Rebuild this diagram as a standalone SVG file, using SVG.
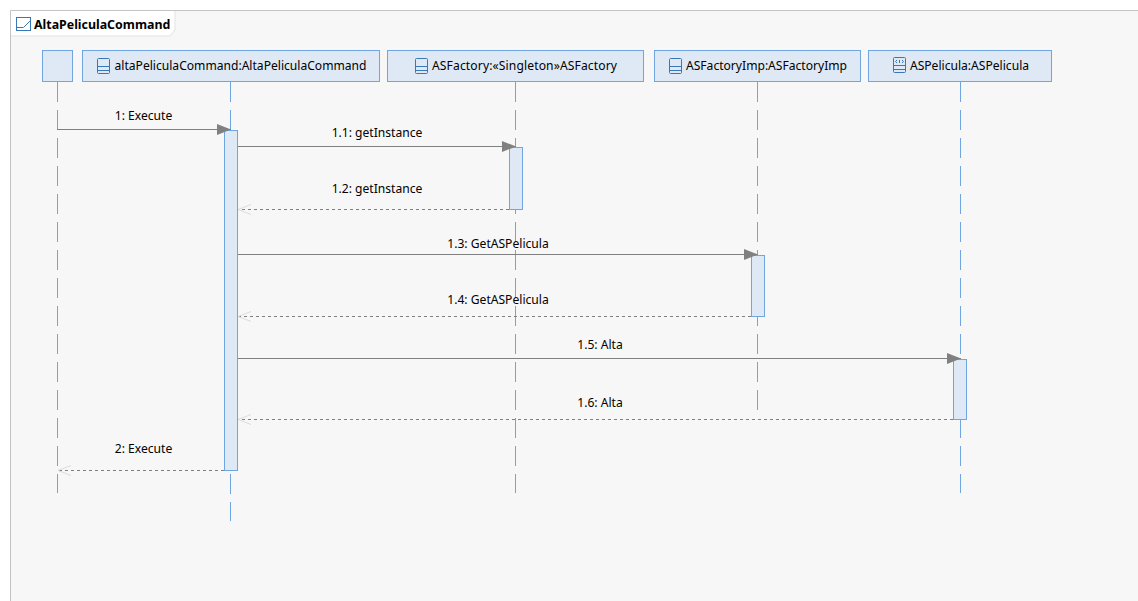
<svg xmlns="http://www.w3.org/2000/svg" width="1138" height="601" viewBox="0 0 1138 601">
<style>
text{font-family:"Noto Sans","Open Sans","Liberation Sans",sans-serif;font-size:12.1px;fill:#000;text-anchor:middle}
.h{fill:#dfe9f5;stroke:#6fa5e0;stroke-width:1}
.ll{stroke:#6fa5e0;stroke-width:1;stroke-dasharray:20 8;fill:none}
.msg{stroke:#808080;stroke-width:1;fill:none}
.ret{stroke:#808080;stroke-width:1;stroke-dasharray:3 3;fill:none}
.ic{fill:none;stroke:#3a78b5;stroke-width:1}
</style>
<defs>
<marker id="a" markerUnits="userSpaceOnUse" markerWidth="15" markerHeight="12" refX="14" refY="5.5" orient="auto"><path d="M0 0L14 5.5L0 11Z" fill="#808080"/></marker>
<marker id="o" markerUnits="userSpaceOnUse" markerWidth="15" markerHeight="12" refX="13" refY="6" orient="auto"><path d="M0 1L13 6L0 11" fill="none" stroke="#dcdcdc"/></marker>
<g id="cls"><rect class="ic" x="0.5" y="0.5" width="12" height="15" rx="1"/><path class="ic" d="M0.5 8.5H12.5M0.5 12.5H12.5"/></g>
</defs>
<rect width="1138" height="601" fill="#fff"/>
<path d="M10.5 604V10.5H1141V604Z" fill="#f7f7f7" stroke="#c4c4c4"/>
<path d="M11 11H175V30L170 36H11Z" fill="#fff"/>
<path d="M175 11V30L170 36H11" fill="none" stroke="#e2e2e2"/>
<g id="frame-title">
<rect class="ic" x="16.5" y="17.5" width="14" height="13"/><path class="ic" d="M16.5 27.5H23.5L30.5 20.5"/>
<text x="34" y="29" style="text-anchor:start;font-weight:700;font-size:12.4px">AltaPeliculaCommand</text>
</g>
<g id="lifelines">
<path class="ll" d="M57.5 82V493"/><path class="ll" d="M230.5 82V521"/><path class="ll" d="M515.5 82V493"/><path class="ll" d="M757.5 82V410"/><path class="ll" d="M960.5 82V493"/>
</g>
<g id="node-anon"><rect class="h" x="42.5" y="50.5" width="30" height="31"/></g>
<g id="node-altaPeliculaCommand"><rect class="h" x="82.5" y="50.5" width="297" height="31"/><use href="#cls" x="97" y="58"/><text x="240.500" y="70">altaPeliculaCommand:AltaPeliculaCommand</text></g>
<g id="node-ASFactory"><rect class="h" x="387.500" y="50.5" width="256" height="31"/><use href="#cls" x="415" y="58"/><text x="524.500" y="70" textLength="185">ASFactory:«Singleton»ASFactory</text></g>
<g id="node-ASFactoryImp"><rect class="h" x="654.500" y="50.5" width="206" height="31"/><use href="#cls" x="669" y="58"/><text x="766.500" y="70">ASFactoryImp:ASFactoryImp</text></g>
<g id="node-ASPelicula"><rect class="h" x="868.500" y="50.5" width="183" height="31"/><g transform="translate(893 57)"><rect class="ic" x="0.5" y="0.5" width="12" height="15" rx="1"/><path class="ic" d="M0.5 8.5H12.500M0.500 12.500H12.500M4 3L2.500 4.500L4 6M9 3L10.500 4.500L9 6M6.500 3V6"/></g><text x="969.500" y="70">ASPelicula:ASPelicula</text></g>
<g id="activations">
<rect class="h" x="224.500" y="130.500" width="13" height="340"/>
<rect class="h" x="509.500" y="147.500" width="13" height="62"/>
<rect class="h" x="751.500" y="255.500" width="13" height="61"/>
<rect class="h" x="953.500" y="359.500" width="13" height="60"/>
</g>
<g id="connectors">
<path class="msg" d="M57 129.500H231" marker-end="url(#a)"/>
<path class="msg" d="M238 146.500H516" marker-end="url(#a)"/>
<path class="ret" d="M509 209.500H238" marker-end="url(#o)"/>
<path class="msg" d="M238 254.500H758" marker-end="url(#a)"/>
<path class="ret" d="M751 316.500H238" marker-end="url(#o)"/>
<path class="msg" d="M238 358.500H961" marker-end="url(#a)"/>
<path class="ret" d="M953 419.500H238" marker-end="url(#o)"/>
<path class="ret" d="M224 470.500H58" marker-end="url(#o)"/>
</g>
<g id="labels">
<text x="143.500" y="120">1: Execute</text>
<text x="377" y="137">1.1: getInstance</text>
<text x="377" y="193">1.2: getInstance</text>
<text x="498" y="248">1.3: GetASPelicula</text>
<text x="498" y="304">1.4: GetASPelicula</text>
<text x="600" y="349">1.5: Alta</text>
<text x="600" y="407">1.6: Alta</text>
<text x="143.500" y="453">2: Execute</text>
</g>
</svg>
